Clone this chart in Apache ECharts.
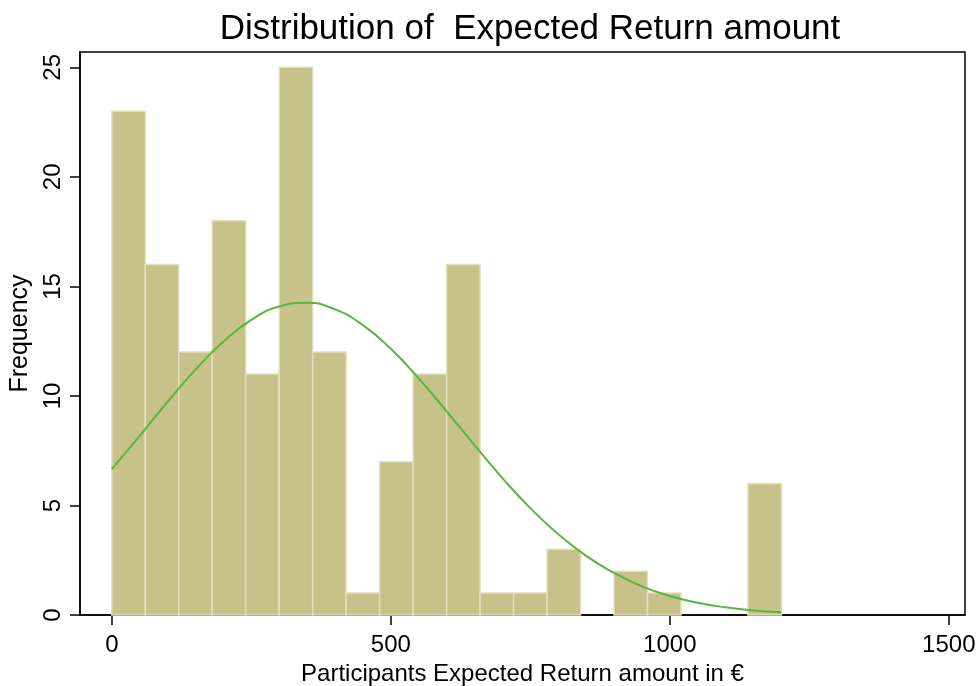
<!DOCTYPE html>
<html>
<head>
<meta charset="utf-8">
<script src="https://cdn.jsdelivr.net/npm/echarts@6/dist/echarts.min.js"></script>
<style>
  html, body { margin: 0; padding: 0; background: #fff; }
  #chart { width: 979px; height: 686px; }
</style>
</head>
<body>
<div id="chart"></div>
<script>
// Histogram bins: left edge of each bin (width 60) and counts
const binWidth = 60;
const binStarts = [0, 60, 120, 180, 240, 300, 360, 420, 480, 540, 600, 660, 720, 780, 840, 900, 960, 1020, 1080, 1140];
const binCounts = [23, 16, 12, 18, 11, 25, 12, 1, 7, 11, 16, 1, 1, 3, 0, 2, 1, 0, 0, 6];

// Normal density overlay (scaled to frequency)
const curveX = [0, 50, 100, 150, 200, 250, 300, 350, 400, 450, 500, 550, 600, 650, 700, 750, 800, 850, 900, 950, 1000, 1050, 1100, 1150, 1200];
const curveY = [6.66, 8.18, 9.73, 11.2, 12.48, 13.47, 14.08, 14.25, 13.95, 13.23, 12.15, 10.8, 9.3, 7.75, 6.25, 4.88, 3.69, 2.7, 1.92, 1.31, 0.87, 0.56, 0.35, 0.21, 0.12];

// Axis ticks
const xTicks = [0, 500, 1000, 1500];
const yTicks = [0, 5, 10, 15, 20, 25];

const FONT = '"Liberation Sans", Arial, Helvetica, sans-serif';

const chart = echarts.init(document.getElementById('chart'), null, { renderer: 'canvas' });

const barData = binStarts.map((s, i) => [s, s + binWidth, binCounts[i]]);
const lineData = curveX.map((x, i) => [x, curveY[i]]);

chart.setOption({
  animation: false,
  backgroundColor: '#ffffff',
  title: {
    text: 'Distribution of  Expected Return amount',
    left: 525,
    top: 7,
    textAlign: 'center',
    textStyle: { fontFamily: FONT, fontSize: 35, fontWeight: 'normal', color: '#000' }
  },
  grid: {
    left: 80, right: 14, top: 52, bottom: 71,
    containLabel: false,
    outerBoundsMode: 'none',
    show: true, borderColor: '#000', borderWidth: 1.5, backgroundColor: '#fff'
  },
  xAxis: {
    type: 'value',
    min: -57, max: 1529,
    name: 'Participants Expected Return amount in €',
    nameLocation: 'middle',
    nameGap: 44,
    nameTextStyle: { fontFamily: FONT, fontSize: 24, color: '#000' },
    splitLine: { show: false },
    axisLine: { show: true, onZero: false, lineStyle: { color: '#000', width: 1.5 } },
    axisTick: { show: true, length: 10, customValues: xTicks, lineStyle: { color: '#000', width: 1.5 } },
    axisLabel: {
      customValues: xTicks, margin: 18, fontFamily: FONT, fontSize: 24, color: '#000',
      formatter: v => String(v)
    }
  },
  yAxis: {
    type: 'value',
    min: 0, max: 25.7,
    name: 'Frequency',
    nameLocation: 'middle',
    nameGap: 38,
    nameTextStyle: { fontFamily: FONT, fontSize: 25, color: '#000' },
    splitLine: { show: false },
    axisLine: { show: true, onZero: false, lineStyle: { color: '#000', width: 1.5 } },
    axisTick: { show: true, length: 10, customValues: yTicks, lineStyle: { color: '#000', width: 1.5 } },
    axisLabel: {
      customValues: yTicks, rotate: 90, margin: 15, fontFamily: FONT, fontSize: 24, color: '#000',
      formatter: v => String(v)
    }
  },
  series: [
    {
      type: 'custom',
      data: barData,
      encode: { x: [0, 1], y: 2 },
      renderItem: function (params, api) {
        if (!api.value(2)) return null;
        const p0 = api.coord([api.value(0), 0]);
        const p1 = api.coord([api.value(1), api.value(2)]);
        return {
          type: 'rect',
          shape: { x: p0[0], y: p1[1], width: p1[0] - p0[0], height: p0[1] - p1[1] },
          style: { fill: '#c7c28a', stroke: '#e2dfc0', lineWidth: 1.5 }
        };
      },
      z: 2
    },
    {
      type: 'line',
      data: lineData,
      smooth: true,
      showSymbol: false,
      lineStyle: { color: '#5ab53c', width: 2 },
      z: 3
    }
  ]
});
</script>
</body>
</html>
